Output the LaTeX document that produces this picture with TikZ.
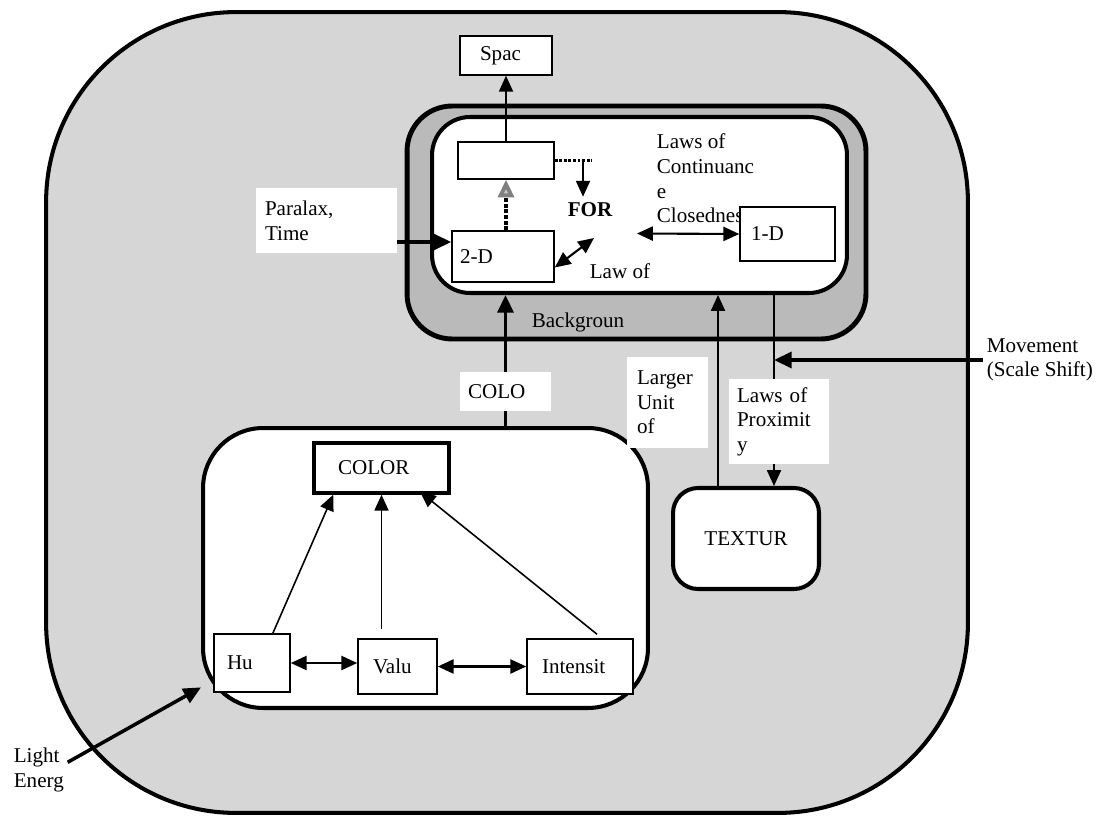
\documentclass[tikz,border=0pt]{standalone}
\usepackage{fontspec}
\setmainfont{Liberation Serif}
\usetikzlibrary{arrows.meta}

\tikzset{
  >={Triangle[length=9pt,width=8pt]},
  region/.style={draw, line width=2.3pt, rounded corners=#1},
  cell/.style n args={3}{draw, fill=white, line width=0.9pt, align=left,
    inner xsep=#1, text width=#2, minimum height=#3},
  lbl/.style n args={3}{fill=white, align=left, inner xsep=#1,
    text width=#2, minimum height=#3},
  txt/.style={align=left, inner sep=2pt},
  arr/.style={->, line width=0.9pt},
  dbl/.style={<->, line width=1.2pt},
  thk/.style={-{Triangle[length=10pt,width=9pt]}, line width=2pt},
}

\begin{document}
\begin{tikzpicture}[x=0.02cm, y=-0.02cm, font=\fontsize{12}{14}\selectfont]
    \useasboundingbox (0,0) rectangle (1097,817);

    % regions
    \node[region=3.8cm, fill=black!16, minimum width=18.44cm, minimum height=16.02cm] (outer) at (507,412.5) {};
    \node[region=0.9cm, line width=2.8pt, fill=black!27, minimum width=9.18cm, minimum height=4.66cm] (band) at (636.5,222.5) {};
    \node[region=0.76cm, fill=white, minimum width=8.3cm, minimum height=3.52cm] (form) at (639.5,205) {};
    \node[region=1.2cm, fill=white, minimum width=8.9cm, minimum height=5.6cm] (colarea) at (425.5,568) {};
    \node[region=0.5cm, fill=white, minimum width=2.92cm, minimum height=2.02cm] (textur) at (746,538.5) {TEXTUR};

    % form part
    \node[cell={0.4cm}{1.04cm}{0.78cm}] (spac) at (506,55.5) {Spac};
    \node[cell={0.1cm}{1.72cm}{0.74cm}] (blank) at (506,160.5) {};
    \node[cell={0.16cm}{1.72cm}{1.02cm}] (twod) at (503,256.5) {2-D};
    \node[txt, anchor=west] (cont) at (653,178.5) {Laws of\\Continuanc\\e\\Closedness};
    \node[cell={0.22cm}{1.46cm}{1.08cm}] (oned) at (787.5,234) {1-D};
    \node[font=\fontsize{12}{14}\selectfont\bfseries] (for) at (590,210) {FOR};
    \node (lawof) at (620,271) {Law of};
    \node (backg) at (578,322) {Backgroun};
    \coordinate (dotend) at (592,160.5);
    \coordinate (lawtip) at (594,238);
    \coordinate (forright) at (637,233.5);

    \draw[arr] (blank) -- (spac);
    \draw[-{Triangle[length=10pt,width=9pt,color=black!50,fill=black!22]}, line width=2.2pt, densely dotted] (twod.north -| blank) -- (blank.south);
    \draw[densely dotted, line width=1.6pt] (blank.east) -- (dotend);
    \draw[arr] ([xshift=-0.14cm]for.north |- blank.east) -- ([xshift=-0.14cm]for.north);
    \draw[dbl] (twod.-12) -- (lawtip);
    \draw[dbl] (forright) -- (oned.west);

    % color part
    \node[cell={0.48cm}{1.74cm}{1cm}, line width=2pt] (color) at (381.5,468) {COLOR};
    \node[cell={0.26cm}{1cm}{1.16cm}] (hu) at (252,663) {Hu};
    \node[cell={0.3cm}{0.98cm}{1.1cm}] (valu) at (397.5,666.5) {Valu};
    \node[cell={0.3cm}{1.52cm}{1.1cm}] (intens) at (580,666.5) {Intensit};

    \draw[arr] (hu.55) -- (color.209);
    \draw[arr] ([yshift=0.18cm]valu.north -| color.south) -- (color.south);
    \draw[arr] ([xshift=0.34cm,yshift=0.08cm]intens.north) -- ([xshift=0.77cm,yshift=0.06cm]color.south);
    \draw[dbl] (hu.east) -- (hu.east -| valu.west);
    \draw[dbl] (valu.east) -- (valu.east -| intens.west);

    % labels on white
    \node[lbl={0.18cm}{2.46cm}{1.3cm}] (paralax) at (326.5,220.5) {Paralax,\\Time};
    \node[lbl={0.16cm}{1.5cm}{0.78cm}] (colo) at (505.5,391.5) {COLO};
    \node[lbl={0.2cm}{1.22cm}{1.82cm}] (larger) at (667.5,402.5) {Larger\\Unit\\of};
    \node[lbl={0.16cm}{1.68cm}{1.7cm}] (prox) at (779,421.5) {Laws of\\Proximit\\y};
    \node[txt, anchor=west] (light) at (10,770) {Light\\Energ};
    \node[txt, anchor=west] (move) at (983,360) {Movement\\(Scale Shift)};
    \coordinate (proxtop) at ([xshift=0.56cm]textur.north |- form.south);

    \draw[thk] (paralax.east |- 0,242) -- (twod.west |- 0,242);
    \draw[line width=2pt] (colarea.north -| colo) -- (colo.south);
    \draw[thk] (colo.north) -- (form.south -| colo);
    \draw[arr] ([xshift=-0.56cm]textur.north) -- ([xshift=-0.56cm]textur.north |- form.south);
    \draw[line width=0.9pt] (proxtop) -- (proxtop |- prox.north);
    \draw[arr] (proxtop |- prox.south) -- (proxtop |- textur.north);
    \draw[thk] (move.west) -- (move.west -| proxtop);
    \draw[thk] (light.15) -- (colarea.208);
\end{tikzpicture}
\end{document}
